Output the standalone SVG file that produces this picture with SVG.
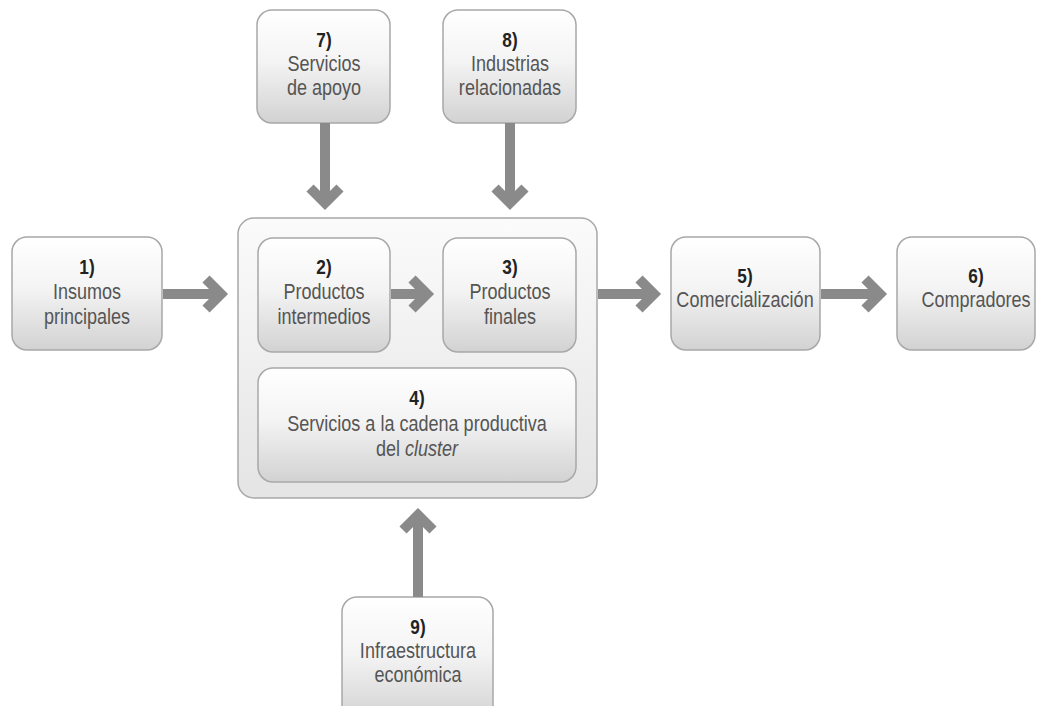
<svg xmlns="http://www.w3.org/2000/svg" width="1038" height="706" viewBox="0 0 1038 706">
<defs>
<linearGradient id="g" x1="0" y1="0" x2="0" y2="1">
<stop offset="0" stop-color="#ffffff"/>
<stop offset="0.45" stop-color="#f4f4f4"/>
<stop offset="1" stop-color="#d2d2d2"/>
</linearGradient>
<linearGradient id="gb" x1="0" y1="0" x2="0" y2="1">
<stop offset="0" stop-color="#fbfbfb"/>
<stop offset="1" stop-color="#e4e4e4"/>
</linearGradient>
</defs>
<style>
.box{fill:url(#g);stroke:#a8a8a8;stroke-width:1.5}
.big{fill:url(#gb);stroke:#a8a8a8;stroke-width:1.5}
.num{font-family:"Liberation Sans",Arial,sans-serif;font-weight:bold;font-size:21px;fill:#222;text-anchor:middle}
.lbl{font-family:"Liberation Sans",Arial,sans-serif;font-size:22px;fill:#555;text-anchor:middle}
.arr{fill:none;stroke:#8a8a8a;stroke-width:10;stroke-linejoin:miter;stroke-linecap:butt}
</style>
<rect width="1038" height="706" fill="#ffffff"/>
<g id="cluster">
<rect class="big" x="238" y="218" width="359" height="280" rx="16"/>
</g>
<g id="n1">
<rect class="box" x="12" y="237" width="150" height="113" rx="15"/>
<g transform="matrix(0.82 0 0 1 87 0)">
<text class="num" x="0" y="274">1)</text>
<text class="lbl" x="0" y="299">Insumos</text>
<text class="lbl" x="0" y="324">principales</text>
</g>
</g>
<g id="n2">
<rect class="box" x="258" y="238" width="132" height="114" rx="15"/>
<g transform="matrix(0.82 0 0 1 324 0)">
<text class="num" x="0" y="274">2)</text>
<text class="lbl" x="0" y="299">Productos</text>
<text class="lbl" x="0" y="324">intermedios</text>
</g>
</g>
<g id="n3">
<rect class="box" x="443" y="238" width="133" height="114" rx="15"/>
<g transform="matrix(0.82 0 0 1 510 0)">
<text class="num" x="0" y="274">3)</text>
<text class="lbl" x="0" y="299">Productos</text>
<text class="lbl" x="0" y="324">finales</text>
</g>
</g>
<g id="n4">
<rect class="box" x="258" y="368" width="318" height="114" rx="15"/>
<g transform="matrix(0.82 0 0 1 417 0)">
<text class="num" x="0" y="405">4)</text>
<text class="lbl" x="0" y="431">Servicios a la cadena productiva</text>
<text class="lbl" x="0" y="456">del <tspan font-style="italic">cluster</tspan></text>
</g>
</g>
<g id="n5">
<rect class="box" x="671" y="237" width="149" height="113" rx="15"/>
<g transform="matrix(0.82 0 0 1 745 0)">
<text class="num" x="0" y="283">5)</text>
<text class="lbl" x="0" y="307">Comercialización</text>
</g>
</g>
<g id="n6">
<rect class="box" x="897" y="237" width="138" height="113" rx="15"/>
<g transform="matrix(0.82 0 0 1 976 0)">
<text class="num" x="0" y="283">6)</text>
<text class="lbl" x="0" y="307">Compradores</text>
</g>
</g>
<g id="n7">
<rect class="box" x="257" y="10" width="133" height="113" rx="15"/>
<g transform="matrix(0.82 0 0 1 324 0)">
<text class="num" x="0" y="47">7)</text>
<text class="lbl" x="0" y="71">Servicios</text>
<text class="lbl" x="0" y="95">de apoyo</text>
</g>
</g>
<g id="n8">
<rect class="box" x="443" y="10" width="133" height="113" rx="15"/>
<g transform="matrix(0.82 0 0 1 510 0)">
<text class="num" x="0" y="47">8)</text>
<text class="lbl" x="0" y="71">Industrias</text>
<text class="lbl" x="0" y="95">relacionadas</text>
</g>
</g>
<g id="n9">
<rect class="box" x="342" y="597" width="151" height="125" rx="15"/>
<g transform="matrix(0.82 0 0 1 418 0)">
<text class="num" x="0" y="634">9)</text>
<text class="lbl" x="0" y="658">Infraestructura</text>
<text class="lbl" x="0" y="682">económica</text>
</g>
</g>
<g id="connectors">
<path class="arr" d="M163 294H220M206 279L221 294L206 309"/>
<path class="arr" d="M391 294H427M412 279L427 294L412 309"/>
<path class="arr" d="M598 294H654M639 279L654 294L639 309"/>
<path class="arr" d="M821 294H880M865 279L880 294L865 309"/>
<path class="arr" d="M325 123V203M310 188L325 203L340 188"/>
<path class="arr" d="M510 123V203M495 188L510 203L525 188"/>
<path class="arr" d="M418 597V515M403 530L418 515L433 530"/>
</g>
</svg>
